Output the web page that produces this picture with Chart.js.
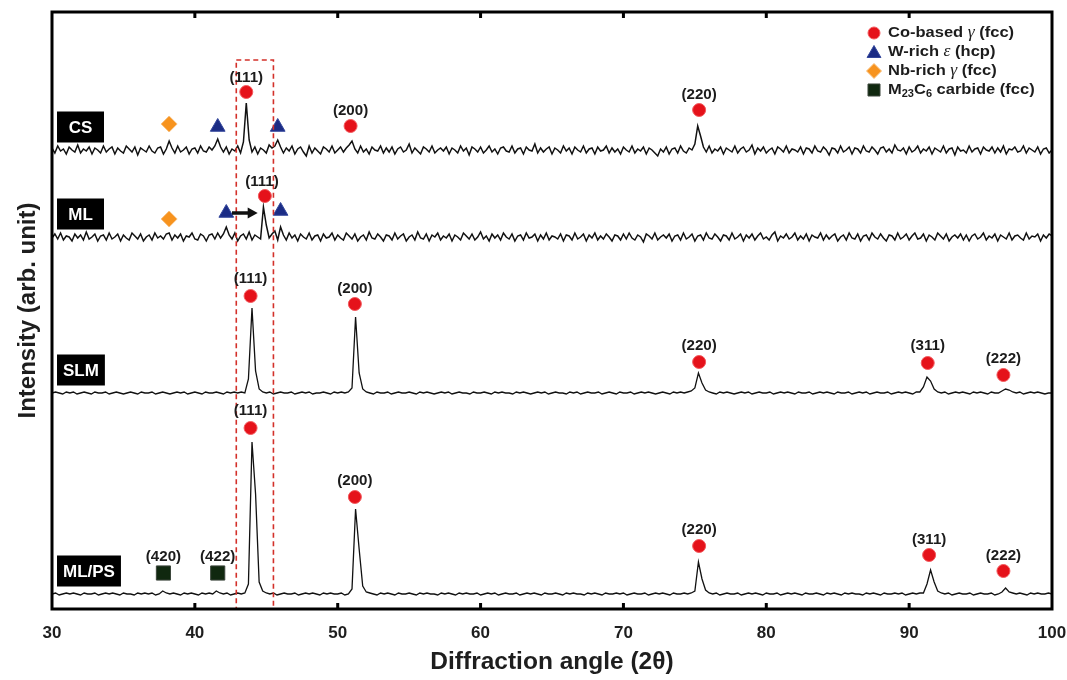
<!DOCTYPE html>
<html><head><meta charset="utf-8">
<script src="https://cdn.jsdelivr.net/npm/chart.js@4.4.1/dist/chart.umd.min.js"></script>
<style>html,body{margin:0;padding:0;background:#fff;}#wrap{width:1067px;height:680px;}</style>
</head><body><div id="wrap"><canvas id="c" width="1067" height="680"></canvas></div>
<script>
// ---- sampling grids of the diffraction patterns (2θ, degrees) ----
const angleStart = 30;
const sampleSteps = [0.2, 0.2, 0.25, 0.25];
const xTicks = [30, 40, 50, 60, 70, 80, 90, 100];

// ---- patterns (relative intensity, arb.) ----
const csCounts = [
2,-3,4,-1,1,-4,3,0,-2,5,-3,1,-1,3,-4,2,0,-3,4,-2,
1,3,-4,2,-1,-3,4,1,-2,3,-5,2,0,-2,4,-1,-3,2,3,-4,
1,9,2,-3,4,-2,0,3,-4,1,2,-3,4,-1,-2,3,0,4,11,3,
-2,3,-4,1,-1,4,-3,8,47,10,-2,3,-4,2,0,-3,5,2,4,10,
3,-3,2,-1,4,-4,1,3,-2,-6,4,-3,2,-1,-4,3,1,-2,4,-3,
0,3,-2,2,5,9,1,-3,4,-2,1,-4,3,0,-1,4,-3,2,-2,3,
-4,1,3,-2,0,6,-3,2,-1,-4,3,1,-2,4,-3,0,2,-1,3,-4,
2,0,-3,4,-1,2,-5,3,1,-2,3,-3,0,4,-2,1,-4,2,3,-1,
-2,4,-3,1,2,-4,3,0,-1,6,-3,2,-2,1,3,-4,2,0,-3,4,
-1,2,-4,3,0,-2,4,-3,1,2,-4,3,-1,0,4,-3,2,-2,1,-4,
3,0,-2,4,-3,1,-1,3,-4,2,0,-3,-6,1,-2,3,-4,1,2,-3,
4,-1,-3,2,0,6,24,14,3,-2,4,-3,1,-1,3,-4,2,0,-2,4,
-3,1,3,-2,0,5,-4,2,-1,3,-3,0,2,-4,3,1,-2,4,-3,1,
0,-2,3,-4,2,1,-3,4,-1,-2,3,0,-5,2,1,-3,4,-2,0,3,
-4,2,1,-3,4,-1,-2,3,0,-4,2,3,-2,1,-3,5,0,-1,2,-4,
3,-2,0,4,-3,1,-1,3,-4,2,0,-2,4,-3,1,2,-5,3,-1,0,
-3,4,-2,1,2,-4,3,0,-1,3,-3,2,-2,4,-4,1,0,3,-2,-1,
4,-3,2,0,-2,3,-4,1,2,-3,0];
const mlCounts = [
-1,3,-2,4,-3,1,0,-4,3,-1,2,-3,5,-2,0,3,-4,1,2,-3,
4,-2,0,3,-4,2,-1,-3,4,1,-2,3,-4,0,2,-3,4,-1,1,-2,
3,4,-3,2,-1,3,-4,1,0,4,-2,-3,3,1,-4,2,3,-2,4,-1,
3,10,2,-2,4,-4,1,3,-2,5,-3,2,0,-2,30,12,-1,3,6,-3,
10,2,-3,4,-1,2,-4,3,0,-2,4,-3,1,2,-4,3,-1,0,4,-3,
2,-1,-3,4,1,-2,3,-4,0,2,-3,5,-1,-2,3,0,-4,2,1,-3,
4,-2,1,3,-4,0,2,-3,5,-1,-2,3,-4,2,0,4,-3,1,-1,3,
-4,2,0,-3,4,1,-2,3,-3,0,5,-2,1,-4,3,-1,2,-3,4,0,
-2,3,-4,1,2,-3,4,-1,0,3,-4,2,-2,4,-3,1,0,-2,3,-4,
2,1,-3,4,-2,0,3,-4,2,-1,4,-3,1,-2,3,0,-4,2,1,-3,
3,-2,4,-1,-3,2,0,-5,3,1,-2,4,-3,0,2,-1,3,-4,1,2,
-3,4,-2,0,3,-4,1,2,-3,4,-1,-2,3,0,-4,2,1,-3,4,-2,
0,3,-4,2,-1,3,-3,1,4,-2,0,-3,2,5,-4,1,-1,3,-2,0,
4,-3,1,-2,3,-4,2,0,-1,4,-3,2,-2,1,3,-4,0,2,-3,4,
-1,-2,3,-4,1,2,-3,4,0,-2,3,-1,-4,2,1,-3,4,-2,0,3,
-3,1,4,-2,-1,3,-4,2,0,-3,4,1,-2,3,-4,0,2,-1,3,-3,
2,-4,1,3,-2,0,4,-3,1,-1,3,-4,2,0,-2,4,-3,1,2,-1,
-3,4,-2,1,0,3,-4,2,-1,3,1];
const slmCounts = [
0,1,0,-1,1,0,1,-1,0,1,0,-1,1,0,0,1,-1,0,1,0,
-1,0,1,0,-1,1,0,0,1,-1,0,1,0,-1,0,1,0,1,-1,0,
1,0,-1,1,0,0,1,0,-1,1,0,1,0,1,0,14,85,22,4,1,
0,1,-1,0,1,0,0,1,-1,0,1,0,1,-1,0,0,1,0,-1,1,
0,1,0,1,5,76,20,4,1,0,-1,1,0,0,1,-1,0,1,0,0,
1,0,-1,1,0,1,0,-1,0,1,0,1,-1,0,1,0,0,-1,1,0,
0,1,0,-1,1,0,1,0,0,-1,1,0,1,0,-1,0,1,0,1,-1,
0,1,0,0,-1,1,0,1,-1,0,1,0,0,1,-1,0,1,0,-1,1,
0,0,1,-1,0,1,0,1,0,-1,0,1,0,-1,1,0,1,0,1,2,
5,20,10,3,1,0,-1,1,0,1,0,-1,0,1,0,1,-1,0,1,0,
0,1,-1,0,1,0,1,0,-1,1,0,0,1,-1,0,1,0,1,0,-1,
1,0,0,1,-1,0,1,0,1,-1,0,1,0,0,1,-1,0,1,0,1,
0,-1,1,1,6,16,12,4,1,0,1,-1,0,1,0,1,0,-1,1,0,
1,0,-1,1,0,0,2,4,3,1,0,1,-1,0,1,0,1,0,-1,0,
0];
const mlpsCounts = [
0,1,-1,0,1,0,1,0,-1,1,0,0,1,-1,0,1,0,1,0,-1,
1,0,0,-1,1,0,1,0,1,-1,0,3,1,0,1,0,-1,1,0,1,
0,-1,1,0,1,0,3,1,0,1,-1,0,1,0,1,10,152,100,12,3,
1,0,1,-1,0,1,0,0,1,-1,0,1,0,1,0,-1,1,0,1,0,
0,1,-1,0,5,85,45,8,2,1,0,-1,1,0,1,0,-1,1,0,0,
1,0,-1,1,0,1,0,0,-1,1,0,1,0,-1,1,0,1,0,0,1,
-1,0,1,0,1,-1,0,1,0,0,1,-1,0,1,0,1,0,-1,1,0,
0,1,0,-1,1,0,1,0,0,-1,1,0,1,0,-1,1,0,0,1,0,
1,-1,0,1,0,0,1,-1,0,1,0,1,0,-1,1,0,0,1,0,1,
3,32,15,4,1,0,1,-1,0,1,0,0,1,-1,0,1,0,1,0,-1,
1,0,0,1,-1,0,1,0,1,0,-1,1,0,0,1,0,-1,1,0,1,
0,-1,1,0,1,0,0,-1,1,0,1,0,-1,1,0,0,1,0,1,-1,
0,1,0,1,1,10,24,12,3,1,0,1,-1,0,1,0,0,1,-1,0,
1,0,0,1,-1,0,2,6,2,1,0,1,0,-1,1,0,1,0,0,1,
0];

// ---- samples (stacked with vertical offsets) ----
const sampleNames = ['CS', 'ML', 'SLM', 'ML/PS'];
const sampleOffsets = [459, 372, 216, 15];
const sampleCounts = [csCounts, mlCounts, slmCounts, mlpsCounts];

// ---- phase markers (2θ, intensity) ----
const coGammaAngles = [43.6, 50.9, 75.3, 44.9, 43.9, 51.2, 75.3, 91.3, 96.6, 43.9, 51.2, 75.3, 91.4, 96.6];
const coGammaLevels = [517, 483, 499, 413, 313, 305, 247, 246, 234, 181, 112, 63, 54, 38];
const wEpsAngles = [41.6, 45.8, 42.2, 46.0];
const wEpsLevels = [482, 482, 396, 398];
const nbGammaAngles = [38.2, 38.2];
const nbGammaLevels = [485, 390];
const carbideAngles = [37.8, 41.6];
const carbideLevels = [36, 36];

// ---- reflection (hkl) labels ----
const hklTexts = ['(111)', '(200)', '(220)', '(111)', '(111)', '(200)', '(220)', '(311)', '(222)', '(420)', '(422)', '(111)', '(200)', '(220)', '(311)', '(222)'];
const hklAngles = [43.6, 50.9, 75.3, 44.7, 43.9, 51.2, 75.3, 91.3, 96.6, 37.8, 41.6, 43.9, 51.2, 75.3, 91.4, 96.6];
const hklLevels = [531, 498, 514, 427, 330, 320, 263, 263, 250, 52, 52, 198, 128, 79, 69, 53];

// ---- highlighted (111) window and peak-shift arrow ----
const focusAngles = [42.9, 45.5];
const focusTopLevel = 549;
const shiftArrowAngles = [42.6, 44.4];
const shiftArrowLevel = 396;

const FONT = '"Liberation Sans", Arial, Helvetica, sans-serif';

const markerSets = [
  {label: 'Co-based γ (fcc)', xs: coGammaAngles, ys: coGammaLevels, style: 'circle', r: 6.5, lr: 6, fill: '#e5121a', edge: '#f2595d'},
  {label: 'W-rich ε (hcp)', xs: wEpsAngles, ys: wEpsLevels, style: 'triangle', r: 8.5, lr: 8, fill: '#1b2c85', edge: '#34479c'},
  {label: 'Nb-rich γ (fcc)', xs: nbGammaAngles, ys: nbGammaLevels, style: 'rectRot', r: 8, lr: 7.5, fill: '#f7931e', edge: '#f8c07e'},
  {label: 'M23C6 carbide (fcc)', xs: carbideAngles, ys: carbideLevels, style: 'rect', r: 10, lr: 8.5, fill: '#10280f', edge: '#3c463c'}
];
const legendRich = [
  [['Co-based ', 'b'], ['γ', 'i'], [' (fcc)', 'b']],
  [['W-rich ', 'b'], ['ε', 'i'], [' (hcp)', 'b']],
  [['Nb-rich ', 'b'], ['γ', 'i'], [' (fcc)', 'b']],
  [['M', 'b'], ['23', 's'], ['C', 'b'], ['6', 's'], [' carbide (fcc)', 'b']]
];

const datasets = [];
markerSets.forEach(m => {
  datasets.push({
    label: m.label,
    data: m.xs.map((a, i) => ({x: a, y: m.ys[i]})),
    showLine: false,
    pointStyle: m.style,
    pointRadius: m.r,
    pointHoverRadius: m.r,
    backgroundColor: m.fill,
    borderColor: m.edge,
    borderWidth: 1
  });
});
sampleCounts.forEach((counts, k) => {
  datasets.push({
    label: sampleNames[k],
    data: counts.map((c, i) => ({x: angleStart + i * sampleSteps[k], y: c + sampleOffsets[k]})),
    showLine: true,
    borderColor: '#111',
    borderWidth: k < 2 ? 1.5 : 1.3,
    pointRadius: 0,
    pointHoverRadius: 0,
    tension: 0,
    fill: false
  });
});

function stretchText(ctx, text, x, y, sx) {
  ctx.save();
  ctx.translate(x, y);
  ctx.scale(sx, 1);
  ctx.fillText(text, 0, 0);
  ctx.restore();
}

function drawMarker(ctx, style, r, x, y) {
  ctx.beginPath();
  if (style === 'circle') {
    ctx.arc(x, y, r, 0, Math.PI * 2);
  } else if (style === 'triangle') {
    ctx.moveTo(x, y - r);
    ctx.lineTo(x + r * 0.866, y + r * 0.5);
    ctx.lineTo(x - r * 0.866, y + r * 0.5);
    ctx.closePath();
  } else if (style === 'rectRot') {
    ctx.moveTo(x, y - r); ctx.lineTo(x + r, y); ctx.lineTo(x, y + r); ctx.lineTo(x - r, y);
    ctx.closePath();
  } else {
    const s = r * Math.SQRT1_2;
    ctx.rect(x - s, y - s, 2 * s, 2 * s);
  }
  ctx.fill();
  ctx.stroke();
}

function drawRich(ctx, segs, x, y, sx) {
  ctx.save();
  ctx.translate(x, y);
  ctx.scale(sx, 1);
  ctx.textAlign = 'left';
  ctx.textBaseline = 'middle';
  let cx = 0;
  segs.forEach(([t, s]) => {
    let dy = 0;
    if (s === 'b') ctx.font = 'bold 15px ' + FONT;
    else if (s === 'i') ctx.font = 'italic 16px "Liberation Serif", "DejaVu Serif", serif';
    else { ctx.font = 'bold 10px ' + FONT; dy = 4; }
    ctx.fillText(t, cx, dy);
    cx += ctx.measureText(t).width;
  });
  ctx.restore();
}

const decor = {
  id: 'decor',
  afterDatasetsDraw(chart) {
    const {ctx, chartArea: ca, scales: {x, y}} = chart;
    ctx.save();
    // highlighted (111) window
    const fx0 = x.getPixelForValue(focusAngles[0]), fx1 = x.getPixelForValue(focusAngles[1]);
    const fy0 = y.getPixelForValue(focusTopLevel), fy1 = y.getPixelForValue(0);
    ctx.strokeStyle = '#d3302a';
    ctx.lineWidth = 1.6;
    ctx.setLineDash([5, 3.5]);
    ctx.strokeRect(fx0, fy0, fx1 - fx0, fy1 - fy0);
    ctx.setLineDash([]);

    // hkl labels
    ctx.fillStyle = '#1c1c1c';
    ctx.font = 'bold 14px ' + FONT;
    ctx.textAlign = 'center';
    ctx.textBaseline = 'middle';
    hklTexts.forEach((t, i) => stretchText(ctx, t, x.getPixelForValue(hklAngles[i]), y.getPixelForValue(hklLevels[i]), 1.08));

    // sample name boxes
    ctx.font = 'bold 17px ' + FONT;
    sampleNames.forEach((n, k) => {
      const tw = ctx.measureText(n).width;
      const w = Math.max(47, tw + 12), h = 31;
      const bx = x.getPixelForValue(30.35);
      const cy = y.getPixelForValue(sampleOffsets[k] + 23);
      ctx.fillStyle = '#000';
      ctx.fillRect(bx, cy - h / 2, w, h);
      ctx.fillStyle = '#fff';
      ctx.fillText(n, bx + w / 2, cy + 1);
    });

    // peak-shift arrow
    const ax0 = x.getPixelForValue(shiftArrowAngles[0]), ax1 = x.getPixelForValue(shiftArrowAngles[1]);
    const ay = y.getPixelForValue(shiftArrowLevel);
    ctx.strokeStyle = '#111';
    ctx.fillStyle = '#111';
    ctx.lineWidth = 3.5;
    ctx.beginPath(); ctx.moveTo(ax0, ay); ctx.lineTo(ax1 - 8, ay); ctx.stroke();
    ctx.beginPath(); ctx.moveTo(ax1, ay); ctx.lineTo(ax1 - 10, ay - 5.5); ctx.lineTo(ax1 - 10, ay + 5.5); ctx.closePath(); ctx.fill();

    // frame and inward ticks
    ctx.strokeStyle = '#000';
    ctx.lineWidth = 3;
    ctx.strokeRect(ca.left, ca.top, ca.width, ca.height);
    ctx.fillStyle = '#000';
    xTicks.slice(1, -1).forEach(v => {
      const px = x.getPixelForValue(v);
      ctx.fillRect(px - 1.5, ca.bottom - 6, 3, 6);
      ctx.fillRect(px - 1.5, ca.top, 3, 6);
    });

    // legend
    const lx = ca.right - 178, ly0 = ca.top + 21, dy = 19;
    markerSets.forEach((m, k) => {
      const yy = ly0 + k * dy;
      ctx.fillStyle = m.fill;
      ctx.strokeStyle = m.edge;
      ctx.lineWidth = 1;
      drawMarker(ctx, m.style, m.lr, lx, yy + (m.style === 'triangle' ? 1.5 : 0));
      ctx.fillStyle = '#1c1c1c';
      drawRich(ctx, legendRich[k], lx + 14, yy, 1.1);
    });
    ctx.restore();
  }
};

new Chart(document.getElementById('c'), {
  type: 'scatter',
  data: {datasets},
  plugins: [decor],
  options: {
    responsive: false,
    animation: false,
    events: [],
    layout: {padding: {left: 0, right: 15, top: 12, bottom: 0}},
    plugins: {legend: {display: false}, tooltip: {enabled: false}},
    scales: {
      x: {
        type: 'linear', min: 30, max: 100,
        afterFit: s => { s.height = 71; s.paddingLeft = 0; s.paddingRight = 0; },
        afterBuildTicks: s => { s.ticks = xTicks.map(v => ({value: v})); },
        grid: {display: false},
        border: {display: false},
        ticks: {padding: 6, color: '#1e1e1e', font: {family: FONT, size: 17, weight: 'bold'}},
        title: {display: true, text: 'Diffraction angle (2θ)', color: '#1e1e1e', padding: {top: 0, bottom: 3}, font: {family: FONT, size: 24.5, weight: 'bold'}}
      },
      y: {
        type: 'linear', min: 0, max: 597,
        afterFit: s => { s.width = 52; },
        grid: {display: false},
        border: {display: false},
        ticks: {display: false},
        title: {display: true, text: 'Intensity (arb. unit)', color: '#1e1e1e', padding: {top: 14, bottom: 0}, font: {family: FONT, size: 24, weight: 'bold'}}
      }
    }
  }
});
</script>
</body></html>
